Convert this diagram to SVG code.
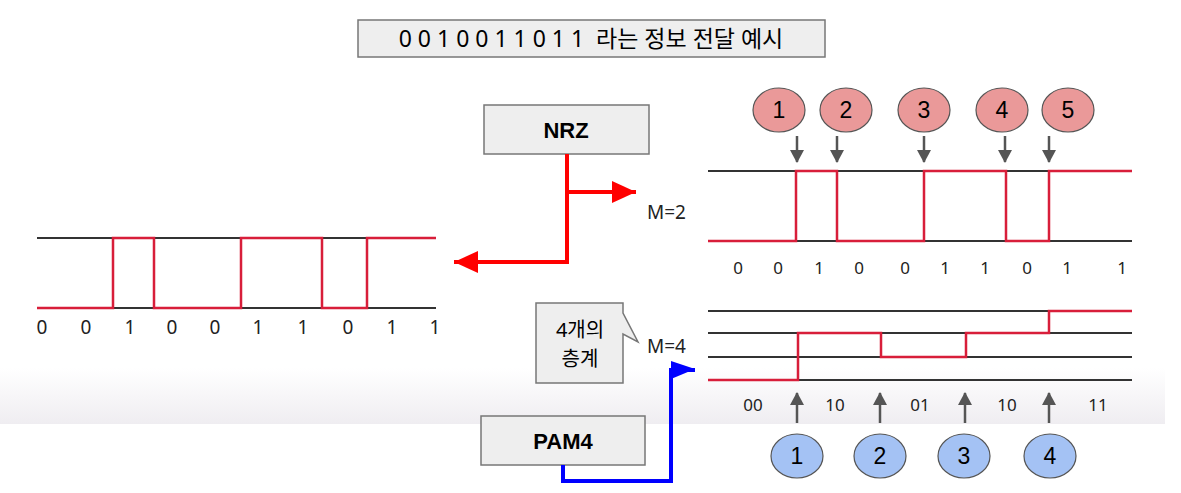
<svg xmlns="http://www.w3.org/2000/svg" width="1181" height="493" viewBox="0 0 1181 493">
<defs>
<linearGradient id="bg" x1="0" y1="0" x2="0" y2="1">
<stop offset="0" stop-color="#ffffff"/>
<stop offset="1" stop-color="#efedf1"/>
</linearGradient>
<marker id="redHead" markerUnits="userSpaceOnUse" markerWidth="26" markerHeight="22" refX="24" refY="11" orient="auto">
<path d="M0,0 L24,11 L0,22 Z" fill="#ff0000"/>
</marker>
<marker id="blueHead" markerUnits="userSpaceOnUse" markerWidth="26" markerHeight="22" refX="24" refY="9" orient="auto">
<path d="M0,0 L24,8 L0,18 Z" fill="#0000ff"/>
</marker>
<marker id="greyHead" markerUnits="userSpaceOnUse" markerWidth="16" markerHeight="16" refX="12" refY="7" orient="auto">
<path d="M0,0 L13,7 L0,14 Z" fill="#555555"/>
</marker>
</defs>
<style>
.box{fill:#eeeeee;stroke:#777777;stroke-width:1.5}
.lvl{stroke:#333333;stroke-width:2;fill:none}
.wave{stroke:#d81e3a;stroke-width:2.5;fill:none;stroke-linejoin:miter}
.bit{font-family:"Noto Sans","Liberation Sans",sans-serif;font-size:19px;fill:#222;text-anchor:middle}
.bit2{font-family:"Noto Sans","Liberation Sans",sans-serif;font-size:17px;fill:#222;text-anchor:middle}
.lbl{font-family:"Noto Sans","Liberation Sans",sans-serif;font-size:19px;fill:#222}
.head{font-family:"Liberation Sans",Arial,sans-serif;font-size:22px;font-weight:bold;fill:#000;text-anchor:middle}
.num{font-family:"Liberation Sans",Arial,sans-serif;font-size:23px;fill:#000;text-anchor:middle}
.red{fill:#ea9999;stroke:#555555;stroke-width:1.2}
.blue{fill:#a4c2f4;stroke:#555555;stroke-width:1.2}
.ga{stroke:#555555;stroke-width:2.5;fill:none;marker-end:url(#greyHead)}
.ttl{font-family:"Noto Sans","Noto Sans CJK KR",sans-serif;font-size:23px;fill:#000;text-anchor:middle}
.ko{font-family:"Noto Sans","Noto Sans CJK KR",sans-serif;font-size:20px;fill:#000;text-anchor:middle}
</style>
<rect width="1181" height="493" fill="#ffffff"/>
<rect x="0" y="368" width="1165" height="56" fill="url(#bg)"/>

<g id="title">
<rect class="box" x="358" y="20" width="467" height="37"/>
<text class="ttl" x="591" y="47">0 0 1 0 0 1 1 0 1 1&#160; 라는 정보 전달 예시</text>
</g>

<g id="nrz-box">
<rect class="box" x="484" y="105" width="165" height="49"/>
<text class="head" x="566" y="138">NRZ</text>
</g>

<g id="pam4-box">
<rect class="box" x="481" y="416" width="164" height="49"/>
<text class="head" x="563" y="449">PAM4</text>
</g>

<g id="connectors">
<path d="M567,154 V262 H454" fill="none" stroke="#ff0000" stroke-width="4" marker-end="url(#redHead)"/>
<path d="M567,192 H636" fill="none" stroke="#ff0000" stroke-width="4" marker-end="url(#redHead)"/>
<path d="M563,465 V481 H671 V370 H695" fill="none" stroke="#0000ff" stroke-width="4" marker-end="url(#blueHead)"/>
</g>

<g id="nrz-left">
<line class="lvl" x1="37" y1="238" x2="436" y2="238"/>
<line class="lvl" x1="37" y1="308" x2="436" y2="308"/>
<path class="wave" d="M37,308 H113 V238 H154 V308 H241 V238 H322 V308 H367 V238 H436"/>
<text class="bit" x="42" y="334">0</text>
<text class="bit" x="86" y="334">0</text>
<text class="bit" x="130" y="334">1</text>
<text class="bit" x="172" y="334">0</text>
<text class="bit" x="215" y="334">0</text>
<text class="bit" x="258" y="334">1</text>
<text class="bit" x="303" y="334">1</text>
<text class="bit" x="348" y="334">0</text>
<text class="bit" x="392" y="334">1</text>
<text class="bit" x="435" y="334">1</text>
</g>

<g id="m2-label"><text class="lbl" x="647" y="219">M=2</text></g>

<g id="nrz-right">
<line class="lvl" x1="708" y1="171" x2="1132" y2="171"/>
<line class="lvl" x1="708" y1="241" x2="1132" y2="241"/>
<path class="wave" d="M708,241 H796 V171 H837 V241 H924 V171 H1006 V241 H1049 V171 H1132"/>
<text class="bit2" x="738" y="274">0</text>
<text class="bit2" x="778" y="274">0</text>
<text class="bit2" x="819" y="274">1</text>
<text class="bit2" x="859" y="274">0</text>
<text class="bit2" x="905" y="274">0</text>
<text class="bit2" x="945" y="274">1</text>
<text class="bit2" x="985" y="274">1</text>
<text class="bit2" x="1027" y="274">0</text>
<text class="bit2" x="1067" y="274">1</text>
<text class="bit2" x="1122" y="274">1</text>
</g>

<g id="nrz-transitions">
<ellipse class="red" cx="779" cy="110" rx="26" ry="22"/><text class="num" x="779" y="118">1</text>
<ellipse class="red" cx="846" cy="110" rx="26" ry="22"/><text class="num" x="846" y="118">2</text>
<ellipse class="red" cx="924" cy="110" rx="26" ry="22"/><text class="num" x="924" y="118">3</text>
<ellipse class="red" cx="1002" cy="110" rx="26" ry="22"/><text class="num" x="1002" y="118">4</text>
<ellipse class="red" cx="1068" cy="110" rx="26" ry="22"/><text class="num" x="1068" y="118">5</text>
<line class="ga" x1="797" y1="136" x2="797" y2="162"/>
<line class="ga" x1="837" y1="136" x2="837" y2="162"/>
<line class="ga" x1="924" y1="136" x2="924" y2="162"/>
<line class="ga" x1="1005" y1="136" x2="1005" y2="162"/>
<line class="ga" x1="1049" y1="136" x2="1049" y2="162"/>
</g>

<g id="callout">
<path d="M536,303 H623 V313 L638,342 L623,334 V383 H536 Z" fill="#eeeeee" stroke="#777777" stroke-width="1.5"/>
<text class="ko" x="580" y="337">4개의</text>
<text class="ko" x="580" y="366">층계</text>
</g>

<g id="m4-label"><text class="lbl" x="647" y="353">M=4</text></g>

<g id="pam4-wave">
<line class="lvl" x1="708" y1="311" x2="1132" y2="311"/>
<line class="lvl" x1="708" y1="333" x2="1132" y2="333"/>
<line class="lvl" x1="708" y1="357" x2="1132" y2="357"/>
<line class="lvl" x1="708" y1="380" x2="1132" y2="380"/>
<path class="wave" d="M708,380 H798 V333 H881 V357 H966 V333 H1049 V311 H1132"/>
<text class="bit2" x="753" y="411">00</text>
<text class="bit2" x="835" y="411">10</text>
<text class="bit2" x="920" y="411">01</text>
<text class="bit2" x="1007" y="411">10</text>
<text class="bit2" x="1098" y="411">11</text>
</g>

<g id="pam4-transitions">
<line class="ga" x1="797" y1="423" x2="797" y2="393"/>
<line class="ga" x1="880" y1="423" x2="880" y2="393"/>
<line class="ga" x1="965" y1="423" x2="965" y2="393"/>
<line class="ga" x1="1049" y1="423" x2="1049" y2="393"/>
<ellipse class="blue" cx="797" cy="456" rx="26" ry="22"/><text class="num" x="797" y="464">1</text>
<ellipse class="blue" cx="880" cy="456" rx="26" ry="22"/><text class="num" x="880" y="464">2</text>
<ellipse class="blue" cx="964" cy="456" rx="26" ry="22"/><text class="num" x="964" y="464">3</text>
<ellipse class="blue" cx="1050" cy="456" rx="26" ry="22"/><text class="num" x="1050" y="464">4</text>
</g>
</svg>
